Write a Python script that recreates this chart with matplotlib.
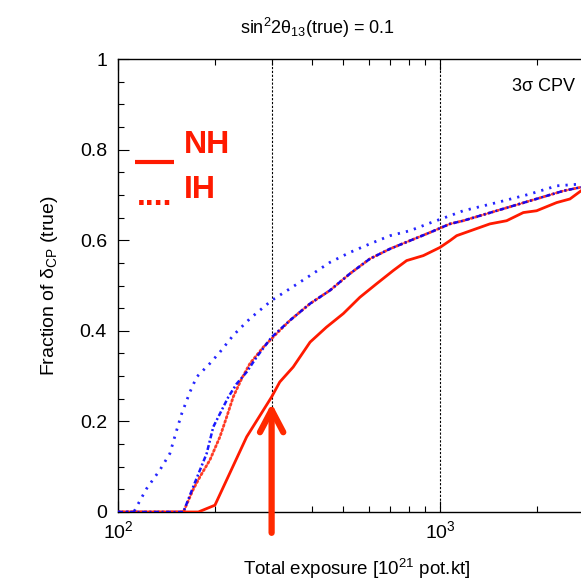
import matplotlib
matplotlib.use("Agg")
import matplotlib.pyplot as plt
from matplotlib.lines import Line2D
from matplotlib.ticker import FixedLocator, FixedFormatter, LogLocator, NullFormatter

plt.rcParams['font.family'] = ['Liberation Sans', 'DejaVu Sans']
plt.rcParams['mathtext.fontset'] = 'custom'
plt.rcParams['mathtext.rm'] = 'Liberation Sans'
plt.rcParams['mathtext.it'] = 'Liberation Sans:italic'
plt.rcParams['mathtext.bf'] = 'Liberation Sans:bold'

# ---- data ----
nh_solid_x = [100, 177.6, 200, 251, 300, 318, 350, 395, 444, 501, 564, 636, 716, 788, 888,
              1000, 1074, 1127, 1429, 1611, 1815, 1996, 2303, 2533, 2742]
nh_solid_y = [0.0, 0.0, 0.015, 0.166, 0.254, 0.287, 0.320, 0.375, 0.408, 0.438, 0.474, 0.504,
              0.533, 0.555, 0.566, 0.584, 0.599, 0.610, 0.636, 0.643, 0.661, 0.665, 0.683,
              0.691, 0.709]

ih_dot_x = [100, 159.6, 171.3, 179.8, 193.0, 207.3, 217.6, 228.0, 242, 257, 282.7, 311,
            342, 395, 455, 525, 606, 700, 807, 931, 1074, 1181, 1500, 1905, 2421, 2742]
ih_dot_y = [0.0, 0.0, 0.050, 0.078, 0.115, 0.166, 0.210, 0.254, 0.294, 0.328, 0.364, 0.394,
            0.423, 0.460, 0.489, 0.526, 0.559, 0.581, 0.599, 0.617, 0.636, 0.643, 0.665,
            0.687, 0.709, 0.717]

blue_dashdot_x = [100, 159.6, 171.3, 179.8, 188.5, 197.7, 207.3, 220.2, 233.6, 251, 269.6,
                  300, 342, 395, 455, 525, 606, 700, 807, 931, 1074, 1181, 1500, 1905, 2421, 2742]
blue_dashdot_y = [0.0, 0.0, 0.056, 0.093, 0.129, 0.188, 0.217, 0.254, 0.283, 0.309, 0.342,
                  0.386, 0.423, 0.460, 0.489, 0.526, 0.559, 0.581, 0.599, 0.617, 0.636,
                  0.643, 0.665, 0.687, 0.709, 0.717]

blue_dot_x = [100, 112, 114.3, 122.8, 135.0, 144.9, 152.2, 157.7, 167.3, 175.5, 193.0, 207.3,
              228.0, 257, 300, 342, 395, 455, 525, 606, 700, 807, 931, 1074, 1181, 1500,
              1905, 2303, 2742]
blue_dot_y = [0.0, 0.0, 0.012, 0.052, 0.093, 0.129, 0.181, 0.217, 0.265, 0.298, 0.328, 0.353,
              0.390, 0.427, 0.467, 0.493, 0.522, 0.551, 0.573, 0.592, 0.610, 0.621, 0.638,
              0.654, 0.665, 0.683, 0.702, 0.720, 0.724]

ref_lines_x = [300, 1000]
arrow_x = 300
arrow_tip_y = 0.240
arrow_base_y = -0.046

y_ticks = [0, 0.2, 0.4, 0.6, 0.8, 1.0]
y_ticklabels = ['0', '0.2', '0.4', '0.6', '0.8', '1']

W, H = 581, 583
fig = plt.figure(figsize=(W / 100, H / 100), dpi=100)
ax = fig.add_axes([118 / W, (H - 512) / H, 1 - 118 / W, (512 - 59) / H])

red = '#ff1a00'
blue = '#0000ff'

ax.plot(nh_solid_x, nh_solid_y, color=red, lw=2.0, solid_joinstyle='round', zorder=3)
ax.plot(ih_dot_x, ih_dot_y, color=red, lw=2.0, linestyle=(0, (0.6, 1.0)), dash_capstyle='round', zorder=3, alpha=0.85)
ax.plot(blue_dot_x, blue_dot_y, color=blue, lw=2.0, linestyle=(0, (0.8, 2.2)), zorder=4, alpha=0.85)
ax.plot(blue_dashdot_x, blue_dashdot_y, color=blue, lw=1.8, linestyle=(0, (2.0, 1.0, 0.8, 1.0)), zorder=4, alpha=0.9)

for xv in ref_lines_x:
    ax.axvline(xv, color='black', lw=0.8, linestyle=(0, (2, 1.5)), zorder=2)

ax.set_xscale('log')
ax.set_xlim(100, 2742)
ax.set_ylim(0, 1)

ax.yaxis.set_major_locator(FixedLocator(y_ticks))
ax.yaxis.set_major_formatter(FixedFormatter(y_ticklabels))
ax.yaxis.set_minor_locator(FixedLocator([i * 0.05 for i in range(21)]))
ax.xaxis.set_major_locator(LogLocator(base=10, numticks=10))
ax.xaxis.set_minor_locator(LogLocator(base=10, subs=range(2, 10), numticks=10))
ax.xaxis.set_minor_formatter(NullFormatter())

ax.tick_params(which='both', direction='in', top=True, right=False, labelsize=14, colors='black')
ax.tick_params(which='major', length=8, width=0.8)
ax.tick_params(which='minor', length=4, width=0.8)
ax.tick_params(axis='x', pad=6)
ax.tick_params(axis='y', pad=8)
ax.spines['right'].set_visible(False)
for s in ['left', 'top', 'bottom']:
    ax.spines[s].set_linewidth(1.0)

ax.set_ylabel('Fraction of δ$_{\\mathrm{CP}}$ (true)', fontsize=14, labelpad=14)
fig.text(357 / W, 1 - 569 / H, 'Total exposure [10$^{21}$ pot.kt]', fontsize=13.5, ha='center', va='center')
fig.text(318 / W, 1 - 28 / H, 'sin$^2$2θ$_{13}$(true) = 0.1', fontsize=13, ha='center', va='center')
ax.text(0.92, 0.94, '3σ CPV', transform=ax.transAxes, fontsize=13, ha='center', va='center')

# legend annotation
fig.text(184 / W, 1 - 145 / H, 'NH', color=red, fontsize=23, fontweight='bold', ha='left', va='center')
fig.text(184 / W, 1 - 190 / H, 'IH', color=red, fontsize=23, fontweight='bold', ha='left', va='center')
fig.add_artist(Line2D([135 / W, 174 / W], [1 - 162 / H, 1 - 162 / H], transform=fig.transFigure,
                      color=red, lw=3.0, solid_capstyle='butt'))
fig.text(155 / W, 1 - 197 / H, '....', color=red, fontsize=23, fontweight='bold', ha='center', va='center')

ax.annotate('', xy=(arrow_x, arrow_tip_y), xytext=(arrow_x, arrow_base_y),
            arrowprops=dict(arrowstyle='->, head_length=0.8, head_width=0.42', lw=4.5,
                            color='#ff2a00', shrinkA=0, shrinkB=0, mutation_scale=20),
            annotation_clip=False, zorder=6)

fig.savefig('out.png', dpi=100)
